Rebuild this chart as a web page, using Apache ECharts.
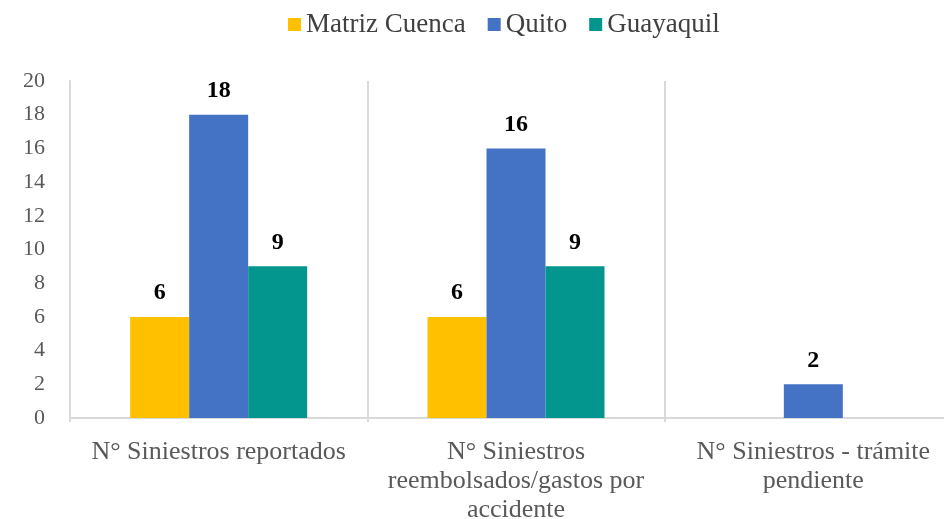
<!DOCTYPE html>
<html>
<head>
<meta charset="utf-8">
<script src="https://cdn.jsdelivr.net/npm/echarts@6/dist/echarts.min.js"></script>
<style>
html,body{margin:0;padding:0;background:#fff;}
#c{width:944px;height:519px;}
</style>
</head>
<body>
<div id="c"></div>
<script>
const categories = [
  "N° Siniestros reportados",
  "N° Siniestros\nreembolsados/gastos por\naccidente",
  "N° Siniestros - trámite\npendiente"
];
const seriesNames = ["Matriz Cuenca", "Quito", "Guayaquil"];
const matrizCuenca = [6, 6, null];
const quito = [18, 16, 2];
const guayaquil = [9, 9, null];
const colors = ["#FFC000", "#4472C4", "#02968F"];

const font = "Liberation Serif";
const chart = echarts.init(document.getElementById('c'));

const values = [matrizCuenca, quito, guayaquil];
const series = seriesNames.map((name, i) => ({
  name: name,
  type: 'bar',
  data: values[i],
  barWidth: 59,
  barGap: '0%',
  itemStyle: { color: colors[i] },
  label: {
    show: true,
    position: 'top',
    distance: 12,
    fontFamily: font,
    fontSize: 24,
    fontWeight: 'bold',
    color: '#000'
  }
}));

chart.setOption({
  animation: false,
  backgroundColor: '#fff',
  color: colors,
  textStyle: { fontFamily: font },
  legend: {
    top: 6,
    left: 283,
    itemWidth: 13,
    itemHeight: 13,
    itemGap: 22,
    icon: 'rect',
    textStyle: { fontFamily: font, fontSize: 27, color: '#404040' },
    data: seriesNames
  },
  grid: { left: 70, width: 892, top: 81, bottom: 101, outerBoundsMode: 'none' },
  xAxis: {
    type: 'category',
    data: categories,
    axisLine: { show: true, lineStyle: { color: '#d9d9d9', width: 2 } },
    axisTick: { show: true, length: 4, lineStyle: { color: '#d9d9d9', width: 2 } },
    splitLine: { show: true, lineStyle: { color: '#d9d9d9', width: 2 } },
    axisLabel: {
      interval: 0,
      margin: 20,
      fontFamily: font,
      fontSize: 26,
      lineHeight: 29,
      color: '#595959'
    }
  },
  yAxis: {
    type: 'value',
    min: 0,
    max: 20,
    interval: 2,
    axisLine: { show: true, lineStyle: { color: '#d9d9d9', width: 2 } },
    axisTick: { show: false },
    splitLine: { show: false },
    axisLabel: {
      margin: 25,
      fontFamily: font,
      fontSize: 22,
      color: '#595959'
    }
  },
  series: series
});
</script>
</body>
</html>
